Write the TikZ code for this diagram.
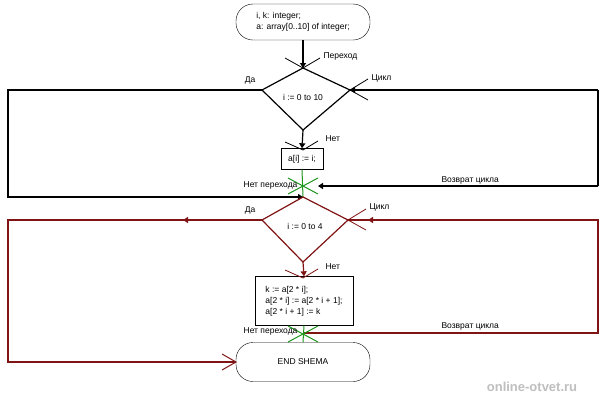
\documentclass[tikz,border=0pt]{standalone}
\usepackage{fontspec}
\setmainfont{Liberation Sans}
\usetikzlibrary{shapes.geometric,arrows.meta}
\definecolor{dred}{RGB}{128,20,20}
\definecolor{gr}{RGB}{30,150,30}
\begin{document}
\begin{tikzpicture}[x=1pt,y=-1pt,font=\fontsize{8.5}{11}\selectfont,
  term/.style={draw,rounded corners=17pt,minimum width=134pt,minimum height=36pt,align=left},
  box/.style={draw,align=left,inner sep=3pt},
  blk/.style={line width=1.2pt},
  red/.style={line width=1.2pt,draw=dred},
  arr/.style={-{Triangle[length=5pt,width=6pt]}},
  tick/.style={line width=0.8pt}]
\useasboundingbox (0,0) rectangle (608,400);
\fill[white] (0,0) rectangle (608,400);
% top
\node[term] (t1) at (303,22) {i, k: integer;\\a: array[0..10] of integer;};
\coordinate (d1t) at (303,68); \coordinate (d1l) at (262,90);
\coordinate (d1r) at (350,90); \coordinate (d1b) at (303,130);
\draw[blk] (d1t)--(d1r)--(d1b)--(d1l)--cycle;
\node (d1) at (303,97) {i := 0 to 10};
\draw[blk,arr] (t1.south) -- (d1t);
\draw[tick] (285,58)--(303,68)--(320,58);
\node[anchor=west] (p1) at (320,56) {Переход};
\node[box,minimum width=42pt,minimum height=21pt] (b1) at (302,159) {a[i] := i;};
\draw[blk,arr] (d1b) -- (b1.north);
\draw[tick] (285,142)--(303,150)--(318,141);
\node[anchor=west] (n1) at (322,139) {Нет};
\draw[blk,arr] (d1l) -- (8,90) -- (8,197) -- (303,197);
\node[anchor=south] (da1) at (250,88) {Да};
\draw[blk] (598,90) -- (598,186);
\draw[blk,arr] (598,90) -- (d1r);
\draw[tick] (350,90)--(368,79); \draw[tick] (350,90)--(368,100);
\node[anchor=west] (c1) at (368,78) {Цикл};
\draw[blk,arr] (598,186) -- (318,186);
\node[anchor=west] (v1) at (438,180) {Возврат цикла};
\coordinate (j1) at (303,186);
\draw[gr,line width=1pt] (b1.south) -- (303,197);
\draw[gr,line width=1pt] (288,178)--(318,194) (288,194)--(318,178);
\node[anchor=east] (np1) at (301,185) {Нет перехода};
% second loop
\coordinate (d2t) at (303,197); \coordinate (d2l) at (262,220);
\coordinate (d2r) at (348,220); \coordinate (d2b) at (303,262);
\draw[red] (d2t)--(d2r)--(d2b)--(d2l)--cycle;
\node (d2) at (305,226) {i := 0 to 4};
\node[box,minimum width=98pt,minimum height=49pt] (b2) at (304,301) {k := a[2 * i];\\a[2 * i] := a[2 * i + 1];\\a[2 * i + 1] := k};
\draw[red,-{Triangle[length=5pt,width=6pt]},dred] (d2b) -- (b2.north);
\draw[tick,dred] (285,270)--(303,278)--(318,269);
\node[anchor=west] (n2) at (322,267) {Нет};
\draw[red] (d2l) -- (8,220) -- (8,362) -- (235,362);
\draw[red,-{Triangle[length=5pt,width=6pt]},dred] (200,220) -- (183,220);
\draw[dred,line width=1pt] (222,354)--(236,362)--(222,370);
\node[anchor=south] (da2) at (250,218) {Да};
\draw[red] (d2r) -- (598,220) -- (598,333) -- (303,333);
\draw[red,-{Triangle[length=5pt,width=6pt]},dred] (380,220) -- (368,220);
\draw[tick,dred] (348,220)--(366,209); \draw[tick,dred] (348,220)--(366,230);
\node[anchor=west] (c2) at (366,207) {Цикл};
\node[anchor=west] (v2) at (438,326) {Возврат цикла};
\node[term,minimum height=39pt] (t2) at (303,362) {END SHEMA};
\draw[gr,line width=1pt] (b2.south) -- (t2.north);
\draw[gr,line width=1pt] (288,326)--(318,342) (288,342)--(318,326);
\node[anchor=east] (np2) at (301,331) {Нет перехода};
\node[text=gray!50,font=\bfseries\fontsize{13}{14}\selectfont] (wm) at (532,387) {online-otvet.ru};
\end{tikzpicture}
\end{document}
